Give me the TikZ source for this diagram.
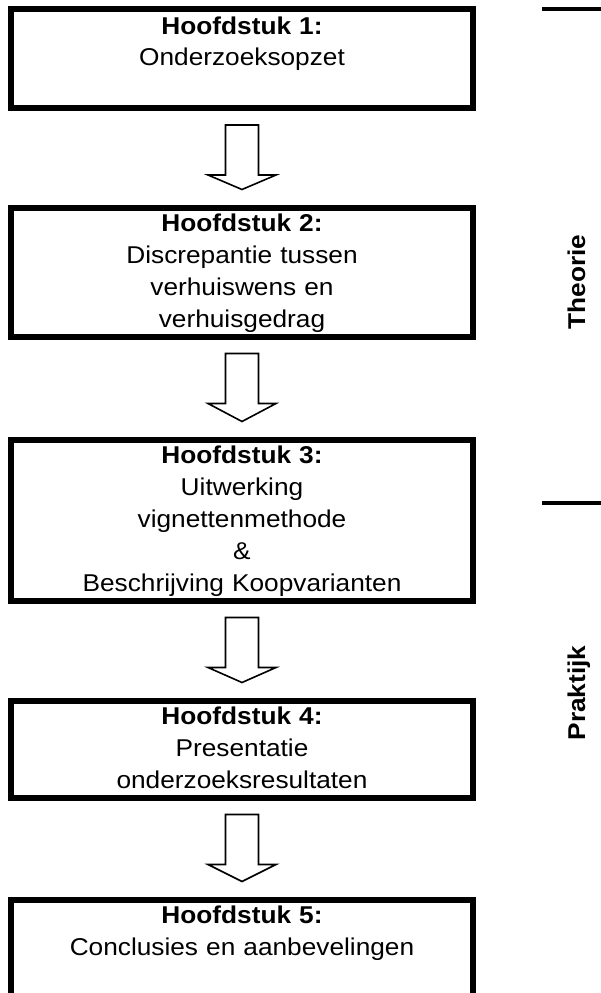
\documentclass[tikz,border=0pt]{standalone}
\usepackage{fontspec}
\setmainfont[FakeStretch=1.08]{Liberation Sans}
\usepackage{tikz}
\usetikzlibrary{calc,shapes}
\usetikzlibrary{positioning}

\newcommand{\chapstrut}{\rule[-8.5pt]{0pt}{32pt}}

\tikzset{
  chapbox/.style={draw, rectangle, line width=6pt, outer sep=3pt, inner xsep=0pt, inner ysep=0.5pt,
    text width=462pt, align=center, font=\fontsize{24.3}{32}\selectfont,
    execute at begin node={\parindent=0pt\chapstrut}, execute at end node={\chapstrut}},
  blockarrow/.style={draw, line width=1.6pt, line join=miter, fill=white},
  sidelabel/.style={rotate=90, anchor=base, inner sep=0pt, font=\fontsize{24.3}{32}\selectfont\bfseries},
  sideline/.style={line width=4pt}
}

\begin{document}
\begin{tikzpicture}[x=1pt,y=1pt]
\useasboundingbox (0,0) rectangle (601,-993);
\clip (0,0) rectangle (601,-993);

\node (h1) at (242,-58.5) [chapbox, minimum height=99pt] {\textbf{Hoofdstuk 1:}\\Onderzoeksopzet\\\mbox{}};
\node (h2) at (242,-272) [chapbox] {\textbf{Hoofdstuk 2:}\\Discrepantie tussen\\verhuiswens en\\verhuisgedrag};
\node (h3) at (242,-520) [chapbox] {\textbf{Hoofdstuk 3:}\\Uitwerking\\vignettenmethode\\\&\\Beschrijving Koopvarianten};
\node (h4) at (242,-749) [chapbox] {\textbf{Hoofdstuk 4:}\\Presentatie\\onderzoeksresultaten};
\node (h5) at (242,-964) [chapbox] {\textbf{Hoofdstuk 5:}\\Conclusies en aanbevelingen\\\mbox{}\\\mbox{}};

\draw[blockarrow] ($(h1.south)+(-16.5,-14)$) -- ($(h1.south)+(-16.5,-64)$) -- ($(h1.south)+(-34,-64)$) -- ($(h2.north)+(0,15)$) -- ($(h1.south)+(34,-64)$) -- ($(h1.south)+(16.5,-64)$) -- ($(h1.south)+(16.5,-14)$) -- cycle;
\draw[blockarrow] ($(h2.south)+(-16.5,-14)$) -- ($(h2.south)+(-16.5,-64)$) -- ($(h2.south)+(-34,-64)$) -- ($(h3.north)+(0,15)$) -- ($(h2.south)+(34,-64)$) -- ($(h2.south)+(16.5,-64)$) -- ($(h2.south)+(16.5,-14)$) -- cycle;
\draw[blockarrow] ($(h3.south)+(-16.5,-14)$) -- ($(h3.south)+(-16.5,-64)$) -- ($(h3.south)+(-34,-64)$) -- ($(h4.north)+(0,15)$) -- ($(h3.south)+(34,-64)$) -- ($(h3.south)+(16.5,-64)$) -- ($(h3.south)+(16.5,-14)$) -- cycle;
\draw[blockarrow] ($(h4.south)+(-16.5,-14)$) -- ($(h4.south)+(-16.5,-64)$) -- ($(h4.south)+(-34,-64)$) -- ($(h5.north)+(0,15)$) -- ($(h4.south)+(34,-64)$) -- ($(h4.south)+(16.5,-64)$) -- ($(h4.south)+(16.5,-14)$) -- cycle;

\node (theorie) at (585,-282) [sidelabel] {Theorie};
\node (praktijk) at (585,-693) [sidelabel] {Praktijk};
\draw[sideline] (542,-9) -- (601,-9);
\draw[sideline] (542,-503) -- (601,-503);
\end{tikzpicture}
\end{document}
